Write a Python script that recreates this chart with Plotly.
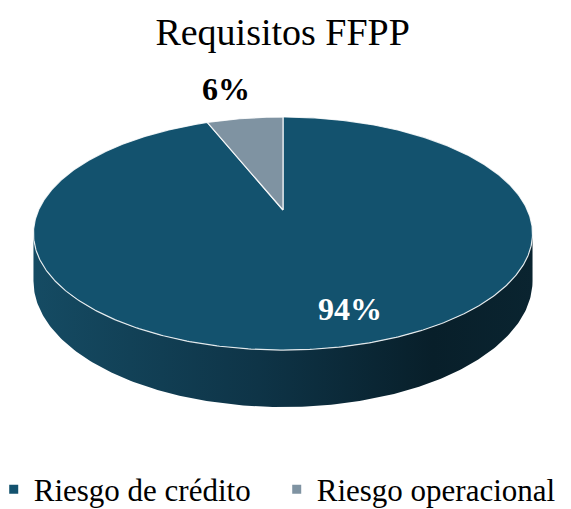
import numpy as np
import plotly.graph_objects as go

# ---- data ----
categories = ["Riesgo de crédito", "Riesgo operacional"]
values = [94, 6]
title_text = "Requisitos FFPP"

# ---- style ----
slice_colors = ["#13526E", "#7F93A2"]
side_scale = [[0, "#154b63"], [0.45, "#0e3447"], [0.8, "#081f2a"], [1, "#0a2430"]]
FONT = "Liberation Serif, Times New Roman, serif"

W, H = 571, 509
CX, CY = 283, 210          # apex of the pie on screen
RX, RY = 244.4, 111.8      # ellipse radii
K = 0.2017                 # perspective factor
DEPTH = 45.5               # thickness of the pie


def project(theta_deg, r=1.0, drop=0.0):
    t = np.radians(theta_deg)
    u = r * np.sin(t)
    v = r * np.cos(t)
    w = 1 + K * v
    return CX + RX * u / w, CY - RY * v / w + drop / w


fig = go.Figure()

# side wall (front half of the pie)
ang_r = np.degrees(np.arccos(-K))
front = np.linspace(ang_r, 360 - ang_r, 200)
xt, yt = project(front)
xb, yb = project(front[::-1], drop=DEPTH)
fig.add_trace(go.Scatter(
    x=np.concatenate([xt, xb, xt[:1]]), y=np.concatenate([yt, yb, yt[:1]]),
    mode="lines", line=dict(width=0), fill="toself",
    fillgradient=dict(type="horizontal", colorscale=side_scale),
    showlegend=False, hoverinfo="skip"))

# top face slices (clockwise from 12 o'clock)
total = float(sum(values))
start = 0.0
for cat, val, col in zip(categories, values, slice_colors):
    span = 360.0 * val / total
    th = np.linspace(start, start + span, max(int(span * 2), 8))
    xs, ys = project(th)
    fig.add_trace(go.Scatter(
        x=np.concatenate([[CX], xs, [CX]]), y=np.concatenate([[CY], ys, [CY]]),
        mode="lines", line=dict(color="rgba(255,255,255,0.85)", width=1.2),
        fill="toself", fillcolor=col, name=cat, showlegend=False,
        hovertemplate=f"{cat}: {val}%<extra></extra>"))
    start += span

# legend entries
for cat, col in zip(categories, slice_colors):
    fig.add_trace(go.Scatter(x=[None], y=[None], mode="markers", name=cat,
                             marker=dict(symbol="square", size=9, color=col)))

# data labels
pct = [f"{round(100 * v / total)}%" for v in values]
label_pos = [(350, 309), (226, 89)]
label_col = ["white", "black"]
for txt, (lx, ly), lc in zip(pct, label_pos, label_col):
    fig.add_annotation(x=lx, y=ly, xref="x", yref="y", text=f"<b>{txt}</b>",
                       showarrow=False, font=dict(family=FONT, size=32, color=lc))

fig.update_layout(
    width=W, height=H,
    margin=dict(l=0, r=0, t=0, b=0, autoexpand=False),
    paper_bgcolor="white", plot_bgcolor="white",
    title=dict(text=title_text, x=0.495, xanchor="center", y=1 - 32 / H,
               yanchor="middle", yref="container",
               font=dict(family=FONT, size=38, color="black")),
    xaxis=dict(range=[0, W], visible=False, fixedrange=True),
    yaxis=dict(range=[H, 0], visible=False, fixedrange=True),
    showlegend=True,
    legend=dict(orientation="h", x=-0.011, xanchor="left", y=-0.015,
                yanchor="bottom", font=dict(family=FONT, size=31, color="black"),
                itemwidth=30, entrywidth=238, bgcolor="rgba(0,0,0,0)"),
)

fig.write_html("out.html", config={"displayModeBar": False},
               post_script="document.body.style.margin='0';document.body.style.padding='0';")
